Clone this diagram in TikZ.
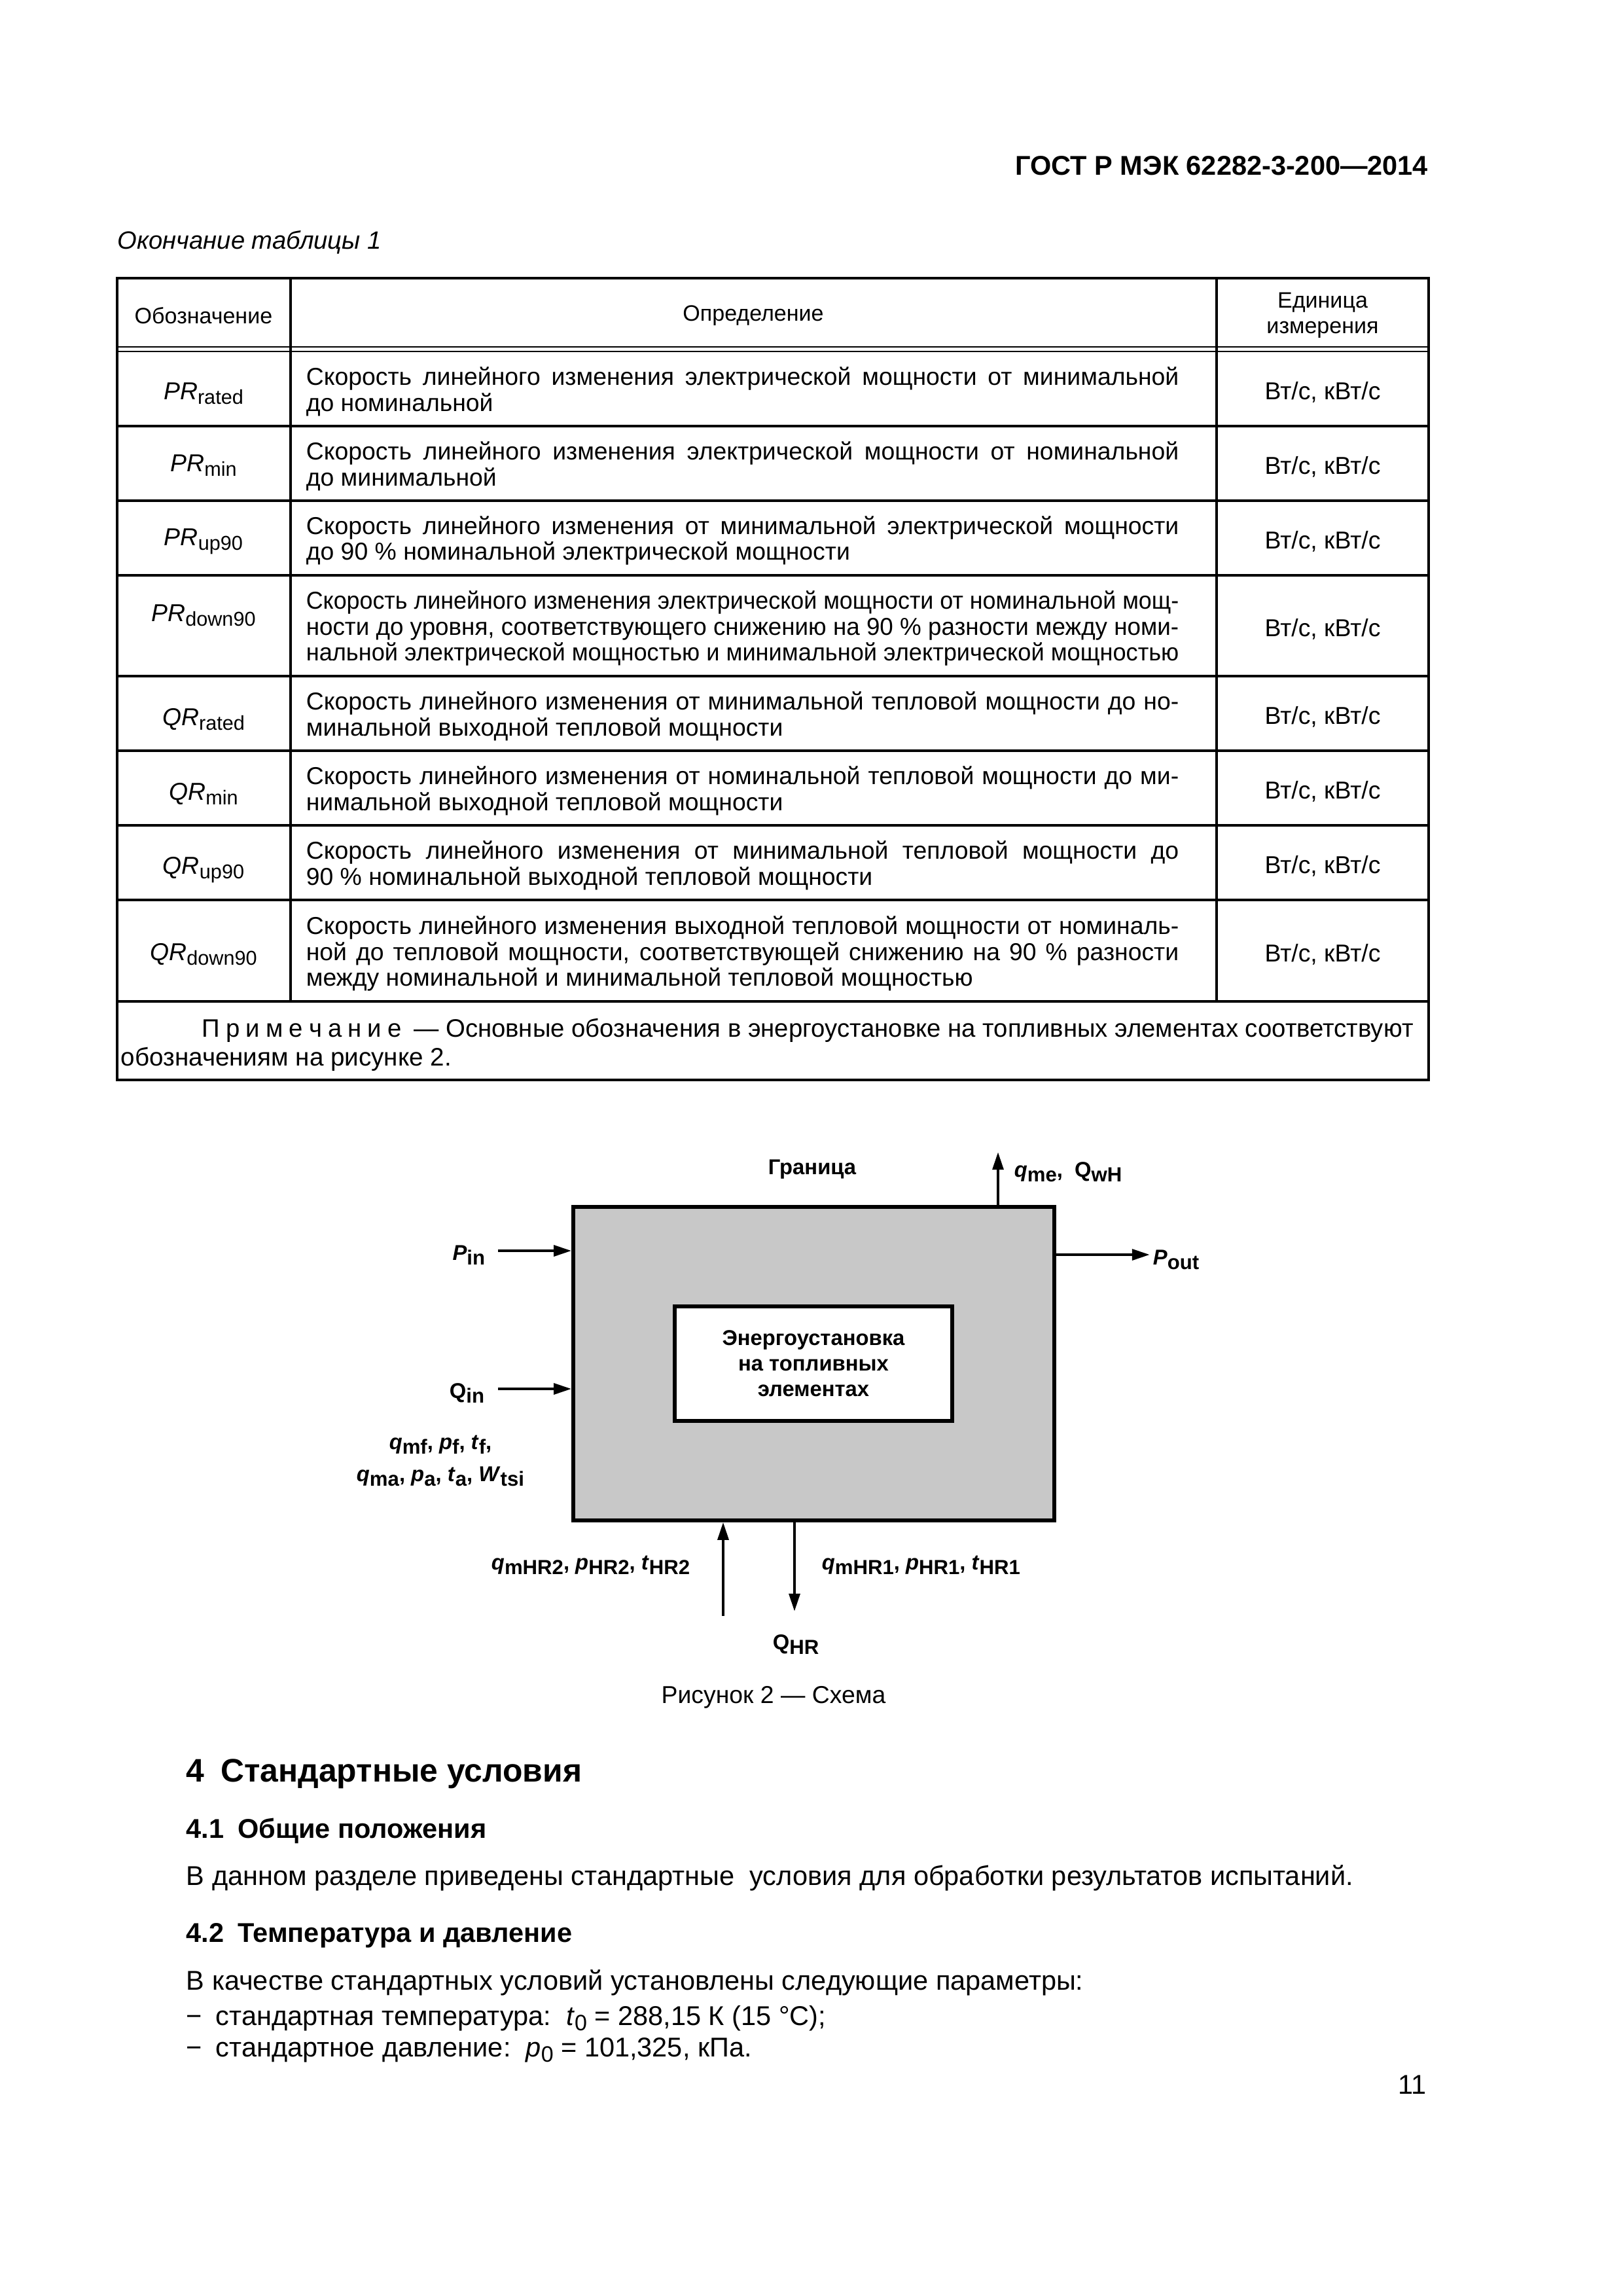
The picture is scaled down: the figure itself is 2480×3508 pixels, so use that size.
\documentclass[tikz,border=0pt]{standalone}
\usepackage{fontspec}
\setmainfont{Liberation Sans}
\usepackage{graphicx}
\usetikzlibrary{arrows.meta}
\usetikzlibrary{positioning}

\definecolor{boxgray}{RGB}{200,200,200}

\newlength{\dw}
\setlength{\dw}{112.9mm}
\newsavebox{\justbox}
% one justified line: stretched if short, squeezed if too long
\newcommand{\justln}[2][\dw]{\sbox{\justbox}{#2}%
	\ifdim\wd\justbox>#1\relax\resizebox{#1}{\height}{#2}\else\makebox[#1][s]{#2}\fi}
\newcommand{\lowix}[1]{\raisebox{-0.4ex}{\scalebox{0.82}{#1}}}
\newcommand{\figix}[1]{\raisebox{-0.45ex}{\scalebox{0.95}{#1}}}
\newcommand{\lsp}{\hspace{2.2pt}}
\newcommand{\tabfont}{\fontsize{9}{9.6}\selectfont}
\newcommand{\headfont}{\fontsize{8.2}{9.3}\selectfont}
\newcommand{\notefont}{\fontsize{9.3}{10.6}\selectfont}
\newcommand{\figfont}{\bfseries\fontsize{7.9}{9.4}\selectfont}
\newcommand{\bodyfont}{\fontsize{10}{12}\selectfont}

\begin{document}
\begin{tikzpicture}
[
	x = 0.08467mm, y = -0.08467mm,
	tabline/.style	= {line width = 0.9pt},
	dblline/.style	= {line width = 0.5pt},
	headtext/.style	= {font = \headfont, inner sep = 0pt, align = center},
	symtext/.style	= {anchor = base, font = \tabfont, inner sep = 0pt},
	deftext/.style	= {anchor = west, align = left, font = \tabfont, inner sep = 0pt},
	unittext/.style	= {anchor = base, font = \tabfont, inner sep = 0pt},
	boundbox/.style	= {draw, fill = boxgray, line width = 1.4pt, minimum width = 62.2mm, minimum height = 40.5mm, inner sep = 0pt},
	plantbox/.style	= {draw, fill = white, line width = 1.3pt, minimum width = 35.9mm, minimum height = 14.8mm, align = center, font = \figfont},
	flow/.style	= {-{Triangle[length = 2.3mm, width = 1.4mm]}, line width = 1.1pt},
	lbl/.style	= {font = \figfont, inner sep = 0pt},
	body/.style	= {anchor = base west, font = \bodyfont, inner sep = 0pt},
	heading/.style	= {body, font = \bfseries\bodyfont},
]

	\fill [white] (0,0) rectangle (2480,3508);
	\useasboundingbox (0,0) rectangle (2480,3508);

	\node (gost) [anchor = base east, inner sep = 0pt, font = \bfseries\fontsize{10}{12}\selectfont] at (2183,267) {ГОСТ Р МЭК 62282-3-200—2014};
	\node (tabcap) [anchor = base west, inner sep = 0pt, font = \itshape\fontsize{9.2}{11}\selectfont] at (179,380) {Окончание таблицы 1};

	% table
	\draw [tabline] (179,425) rectangle (2183,1650);
	\draw [dblline] (179,530) -- (2183,530);
	\draw [dblline] (179,537) -- (2183,537);
	\foreach \y in {651,765,879,1033,1147,1261,1375,1530}
		\draw [tabline] (179,\y) -- (2183,\y);
	\foreach \x in {444,1859}
		\draw [tabline] (\x,425) -- (\x,1530);

	\node (head1) [headtext] at (311,482) {Обозначение};
	\node (head2) [headtext] at (1151,482) {Определение};
	\node (head3) [headtext] at (2021,482) {Единица\\измерения};

	\node (sym1) [symtext] at (311,610) {\textit{PR}\lowix{rated}};
	\node (sym2) [symtext] at (311,720) {\textit{PR}\lowix{min}};
	\node (sym3) [symtext] at (311,833) {\textit{PR}\lowix{up90}};
	\node (sym4) [symtext] at (311,949) {\textit{PR}\lowix{down90}};
	\node (sym5) [symtext] at (311,1108) {\textit{QR}\lowix{rated}};
	\node (sym6) [symtext] at (311,1222) {\textit{QR}\lowix{min}};
	\node (sym7) [symtext] at (311,1335) {\textit{QR}\lowix{up90}};
	\node (sym8) [symtext] at (311,1467) {\textit{QR}\lowix{down90}};

	\node (def1) [deftext] at (467,598) {\justln{Скорость линейного изменения электрической мощности от минимальной}\\до номинальной};
	\node (def2) [deftext] at (467,712) {\justln{Скорость линейного изменения электрической мощности от номинальной}\\до минимальной};
	\node (def3) [deftext] at (467,826) {\justln{Скорость линейного изменения от минимальной электрической мощности}\\до 90 \% номинальной электрической мощности};
	\node (def4) [deftext] at (467,960) {\justln{Скорость линейного изменения электрической мощности от номинальной мощ-}\\\justln{ности до уровня, соответствующего снижению на 90 \% разности между номи-}\\\justln{нальной электрической мощностью и минимальной электрической мощностью}};
	\node (def5) [deftext] at (467,1094) {\justln{Скорость линейного изменения от минимальной тепловой мощности до но-}\\минальной выходной тепловой мощности};
	\node (def6) [deftext] at (467,1208) {\justln{Скорость линейного изменения от номинальной тепловой мощности до ми-}\\нимальной выходной тепловой мощности};
	\node (def7) [deftext] at (467,1322) {\justln{Скорость линейного изменения от минимальной тепловой мощности до}\\90 \% номинальной выходной тепловой мощности};
	\node (def8) [deftext] at (467,1457) {\justln{Скорость линейного изменения выходной тепловой мощности от номиналь-}\\\justln{ной до тепловой мощности, соответствующей снижению на 90 \% разности}\\между номинальной и минимальной тепловой мощностью};

	\foreach \y [count = \i] in {594,708,822,956,1090,1204,1318,1453}
		\node (unit\i) [unittext] at (2021,\y+16) {Вт/с, кВт/с};

	\node (note) [anchor = west, align = left, font = \notefont, inner sep = 0pt] at (184,1596)
		{\hspace*{10.5mm}\justln[156.7mm]{П\lsp р\lsp и\lsp м\lsp е\lsp ч\lsp а\lsp н\lsp и\lsp е\hspace{2pt} — Основные обозначения в энергоустановке на топливных элементах соответствуют}\\обозначениям на рисунке 2.};

	% figure
	\node (bound) [boundbox] at (1243.5,2083.5) {};
	\node (plant) [plantbox] at (1243,2083.5) {Энергоустановка\\на топливных\\элементах};
	\node (border) [lbl, anchor = base] at (1241,1794) {Граница};

	\coordinate (meE) at (1525,1760);
	\coordinate (pinS) at (761,1911);
	\coordinate (qinS) at (761,2122);
	\coordinate (poutE) at (1757,1917);
	\coordinate (hr2S) at (1105,2469);
	\coordinate (hr1E) at (1214,2462);

	\draw [flow] (meE |- bound.north) -- (meE);
	\draw [flow] (pinS) -- (pinS -| bound.west);
	\draw [flow] (qinS) -- (qinS -| bound.west);
	\draw [flow] (poutE -| bound.east) -- (poutE);
	\draw [flow] (hr2S) -- (hr2S |- bound.south);
	\draw [flow] (hr1E |- bound.south) -- (hr1E);

	\node (me) [lbl, anchor = base west] at (1549,1798) {\textit{q}\figix{me},\ \ Q\figix{wH}};
	\node (pin) [lbl, anchor = base east] at (742,1925) {\textit{P}\figix{in}};
	\node (qin) [lbl, anchor = base east] at (741,2136) {Q\figix{in}};
	\node (pout) [lbl, anchor = base west] at (1761,1932) {\textit{P}\figix{out}};
	\node (feed) [lbl, align = center, font = \bfseries\fontsize{7.9}{11.8}\selectfont] at (673,2232)
		{\textit{q}\figix{mf}, \textit{p}\figix{f}, \textit{t}\figix{f},\\\textit{q}\figix{ma}, \textit{p}\figix{a}, \textit{t}\figix{a}, \textit{W}\figix{tsi}};
	\node (hr2) [lbl, anchor = base east] at (1055,2398) {\textit{q}\figix{mHR2}, \textit{p}\figix{HR2}, \textit{t}\figix{HR2}};
	\node (hr1) [lbl, anchor = base west] at (1255,2398) {\textit{q}\figix{mHR1}, \textit{p}\figix{HR1}, \textit{t}\figix{HR1}};
	\node (qhr) [lbl, anchor = base] at (1216,2520) {Q\figix{HR}};
	\node (figcap) [anchor = base, inner sep = 0pt, font = \fontsize{9}{11}\selectfont] at (1182,2602) {Рисунок 2 — Схема};

	% section 4
	\node (sec4) [body, font = \bfseries\fontsize{12}{14}\selectfont] at (284,2722) {4\hspace{0.5em}Стандартные условия};
	\node (sec41) [heading] at (284,2808) {4.1\hspace{0.5em}Общие положения};
	\node (par1) [body] at (284,2880) {В данном разделе приведены стандартные\ \ условия для обработки результатов испытаний.};
	\node (sec42) [heading] at (284,2967) {4.2\hspace{0.5em}Температура и давление};
	\node (par2) [body] at (284,3040) {В качестве стандартных условий установлены следующие параметры:};
	\node (item1) [body] at (284,3094) {−\hspace{5pt}стандартная температура:\ \ \textit{t}\lowix{0} = 288,15 К (15 °C);};
	\node (item2) [body] at (284,3142) {−\hspace{5pt}стандартное давление:\ \ \textit{p}\lowix{0} = 101,325, кПа.};
	\node (page) [body, anchor = base east] at (2180,3199) {11};

\end{tikzpicture}
\end{document}
